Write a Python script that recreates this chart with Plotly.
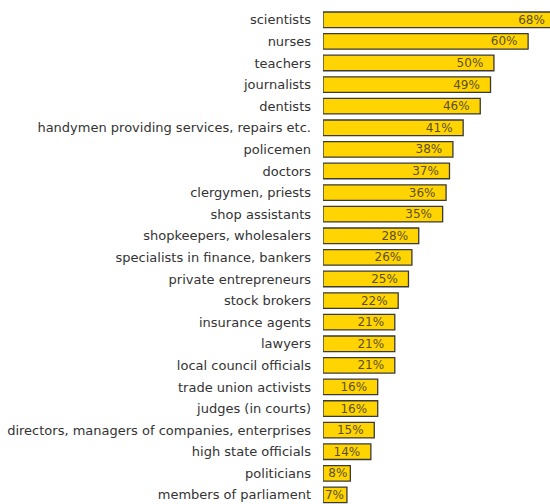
import plotly.graph_objects as go

# Share of respondents naming each occupation (percent), top to bottom
occupations = [
    "scientists",
    "nurses",
    "teachers",
    "journalists",
    "dentists",
    "handymen providing services, repairs etc.",
    "policemen",
    "doctors",
    "clergymen, priests",
    "shop assistants",
    "shopkeepers, wholesalers",
    "specialists in finance, bankers",
    "private entrepreneurs",
    "stock brokers",
    "insurance agents",
    "lawyers",
    "local council officials",
    "trade union activists",
    "judges (in courts)",
    "directors, managers of companies, enterprises",
    "high state officials",
    "politicians",
    "members of parliament",
]
percent = [68, 60, 50, 49, 46, 41, 38, 37, 36, 35, 28, 26, 25, 22, 21, 21, 21,
           16, 16, 15, 14, 8, 7]
# value labels; wider bars get a little extra room after the number
labels = [f"{v}%" + ("\u00a0\u00a0" if v >= 10 else "") for v in percent]

FONT = "DejaVu Sans, Verdana, sans-serif"

fig = go.Figure()
fig.add_trace(
    go.Bar(
        x=percent,
        y=occupations,
        orientation="h",
        width=0.72,
        marker=dict(color="#FFD400", line=dict(color="#3a3a3a", width=1.3)),
        text=labels,
        textposition="inside",
        insidetextanchor="end",
        constraintext="none",
        textfont=dict(family=FONT, size=12, color="#5c5020"),
        cliponaxis=True,
        hoverinfo="skip",
    )
)

fig.update_layout(
    width=550,
    height=504,
    margin=dict(l=323, r=0, t=9, b=0),
    paper_bgcolor="white",
    plot_bgcolor="white",
    showlegend=False,
)
fig.update_xaxes(range=[0, 66.4], visible=False, fixedrange=True)
fig.update_yaxes(
    categoryorder="array",
    categoryarray=occupations,
    range=[22.42, -0.5],
    showgrid=False,
    zeroline=False,
    showline=False,
    ticks="",
    ticklabelstandoff=11,
    tickfont=dict(family=FONT, size=13, color="#333333"),
    fixedrange=True,
)

fig.write_html("out.html", config={"displayModeBar": False})
